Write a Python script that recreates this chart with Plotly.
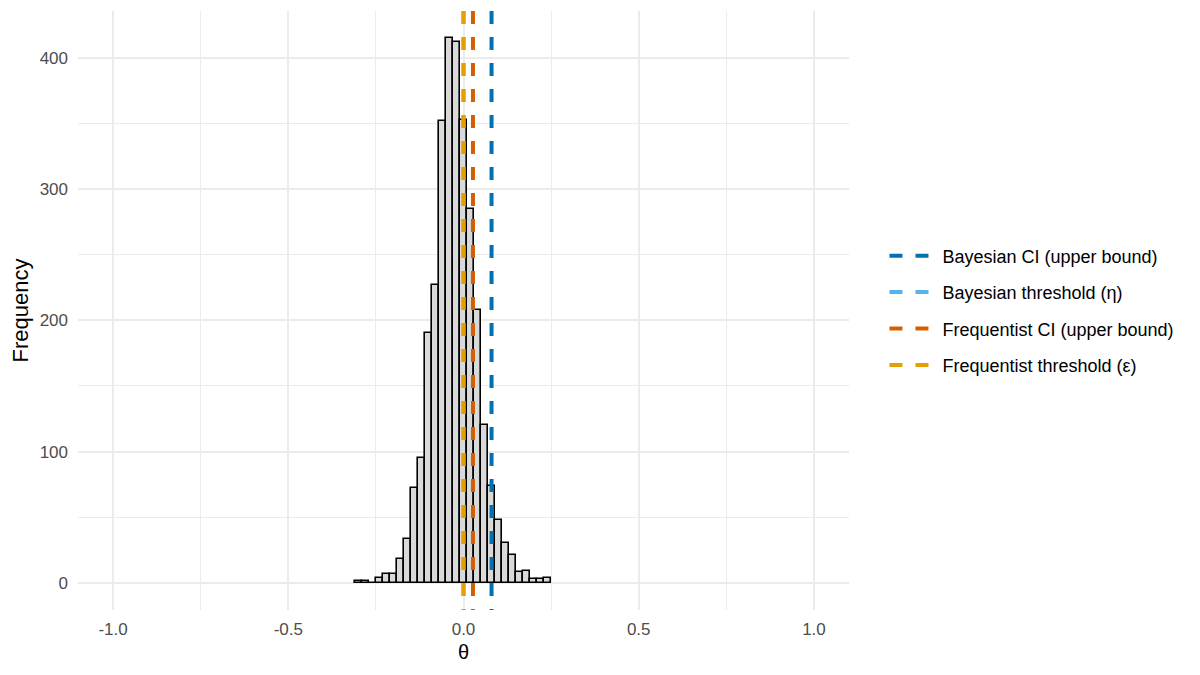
import plotly.graph_objects as go

# ---- data ----
bin_centers = [-0.30, -0.28, -0.26, -0.24, -0.22, -0.20, -0.18, -0.16, -0.14, -0.12,
               -0.10, -0.08, -0.06, -0.04, -0.02, 0.00, 0.02, 0.04, 0.06, 0.08,
               0.10, 0.12, 0.14, 0.16, 0.18, 0.20, 0.22, 0.24]
counts = [1, 1, 0, 4, 7, 7, 18, 33, 72, 95,
          190, 227, 352, 415, 412, 353, 285, 208, 120, 74,
          48, 30, 21, 8, 9, 3, 3, 4]
bin_width = 0.02

line_names = ["Bayesian CI (upper bound)", "Bayesian threshold (\u03b7)",
              "Frequentist CI (upper bound)", "Frequentist threshold (\u03b5)"]
line_values = [0.08, 0.0, 0.027, 0.0]
line_colors = ["#0072B2", "#56B4E9", "#D55E00", "#E69F00"]

x_ticks = [-1.0, -0.5, 0.0, 0.5, 1.0]
x_ticklabels = ["-1.0", "-0.5", "0.0", "0.5", "1.0"]
y_ticks = [0, 100, 200, 300, 400]

# ---- ranges (ggplot-like 5% expansion) ----
x_lim = (-1.0, 1.0)
xspan = x_lim[1] - x_lim[0]
x_range = [x_lim[0] - 0.05 * xspan, x_lim[1] + 0.05 * xspan]
ymax = max(counts)
y_range = [-0.05 * ymax, ymax * 1.05]

FONT = "Liberation Sans, Arial, sans-serif"

fig = go.Figure()
fig.add_trace(go.Bar(
    x=bin_centers, y=counts, width=bin_width,
    marker=dict(color="#D9D9D9", line=dict(color="black", width=1.6)),
    showlegend=False, hoverinfo="skip",
))

for name, v, c in zip(line_names, line_values, line_colors):
    fig.add_trace(go.Scatter(
        x=[v, v], y=[y_range[1], y_range[0]], mode="lines",
        line=dict(color=c, width=4, dash="13px,13px"),
        name=name, legendgroup=name, showlegend=True,
    ))

grid = "#EBEBEB"
fig.update_layout(
    width=1200, height=675,
    paper_bgcolor="white", plot_bgcolor="white",
    margin=dict(l=70, r=359, t=3, b=73, autoexpand=False),
    font=dict(family=FONT, size=16, color="#4D4D4D"),
    bargap=0,
    showlegend=True,
    legend=dict(
        x=1.046, xanchor="left", y=0.5, yanchor="middle",
        font=dict(family=FONT, size=18, color="black"),
        tracegroupgap=10, itemwidth=48,
        bgcolor="rgba(0,0,0,0)",
    ),
    xaxis=dict(
        range=x_range, tickvals=x_ticks, ticktext=x_ticklabels,
        showgrid=True, gridcolor=grid, gridwidth=1.5,
        minor=dict(dtick=0.25, tick0=-0.75, showgrid=True, gridcolor=grid, gridwidth=0.8),
        zeroline=False, showline=False, ticks="",
        ticklabelstandoff=7, automargin=False,
        tickfont=dict(size=17, color="#4D4D4D"),
        title=dict(text="\u03b8", font=dict(size=20, color="black"), standoff=6),
    ),
    yaxis=dict(
        range=y_range, tickvals=y_ticks,
        showgrid=True, gridcolor=grid, gridwidth=1.5,
        minor=dict(dtick=50, tick0=50, showgrid=True, gridcolor=grid, gridwidth=0.8),
        zeroline=False, showline=False, ticks="",
        ticklabelstandoff=9, automargin=False,
        tickfont=dict(size=17, color="#4D4D4D"),
        title=dict(text="Frequency", font=dict(size=22, color="black"), standoff=10),
    ),
)

fig.write_html("out.html")
